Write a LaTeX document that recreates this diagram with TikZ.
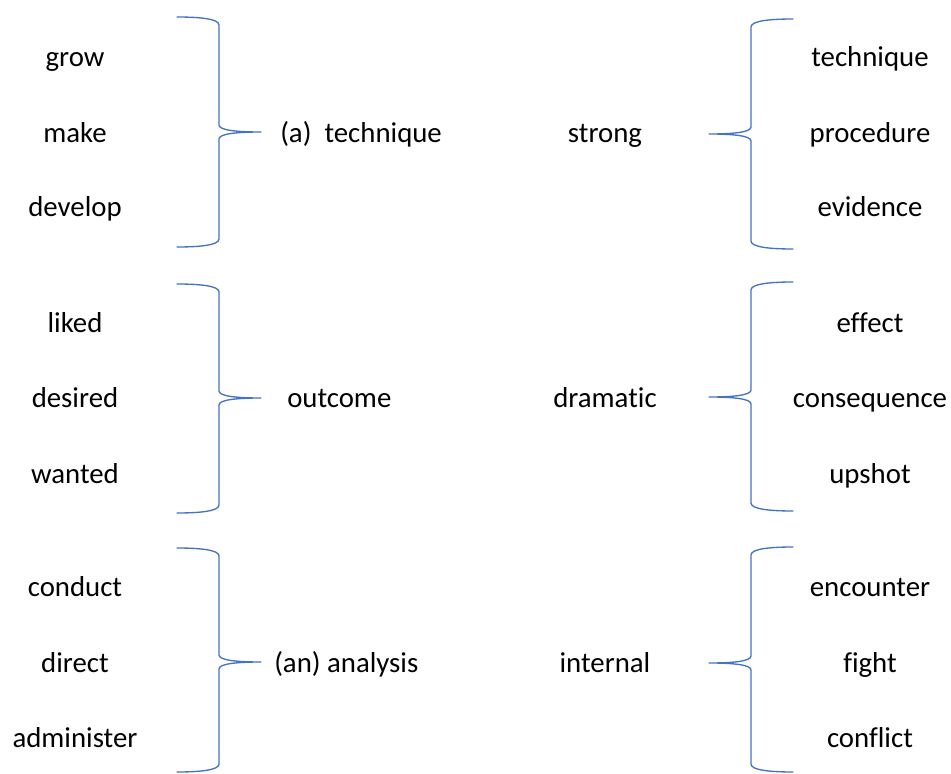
\documentclass[tikz,border=0pt]{standalone}
\usepackage{fontspec}
\setmainfont{Carlito}[Ligatures={NoCommon}]
\definecolor{braceblue}{HTML}{4472C4}

% curly bracket: #1 x of the spine, #2 direction (+1 tip to the right, -1 tip to the left),
% #3 top y, #4 tip y, #5 bottom y
\newcommand\curlybracket[5]{%
  \draw[bracket line]
    ({#1-(#2)*42},#3) .. controls ({#1-(#2)*18},#3) and (#1,{#3+2}) .. (#1,{#3+8})
    -- (#1,{#4-7}) .. controls (#1,{#4-2}) and ({#1+(#2)*16},#4) .. ({#1+(#2)*42},#4)
    .. controls ({#1+(#2)*16},#4) and (#1,{#4+2}) .. (#1,{#4+7})
    -- (#1,{#5-8}) .. controls (#1,{#5-2}) and ({#1-(#2)*18},#5) .. ({#1-(#2)*42},#5);}

\begin{document}
\begin{tikzpicture}[x=0.75pt,y=-0.75pt,
  word/.style={anchor=base,inner sep=0pt,font=\fontsize{21.6}{26}\selectfont,text=black},
  headword/.style={word,anchor=base west},
  bracket line/.style={draw=braceblue,line width=1pt,line cap=round,line join=round}]
\useasboundingbox (0,0) rectangle (951,774);

% left column of verbs / adjectives
\node[word] (grow)     at (75,67)  {grow};
\node[word] (make)     at (75,143) {make};
\node[word] (develop)  at (75,217) {develop};
\node[word] (liked)    at (75,332) {liked};
\node[word] (desired)  at (75,407) {desired};
\node[word] (wanted)   at (75,483) {wanted};
\node[word] (conduct)  at (75,596) {conduct};
\node[word] (direct)   at (75,672) {direct};
\node[word] (administer) at (75,747) {administer};

% nouns after the left brackets
\node[headword] (technique1) at (280,143) {(a)\ \ technique};
\node[headword] (outcome)    at (287,407) {outcome};
\node[headword] (analysis)   at (274,672) {(an) analysis};

% adjectives before the right brackets
\node[word] (strong)   at (605,143) {strong};
\node[word] (dramatic) at (605,407) {dramatic};
\node[word] (internal) at (605,672) {internal};

% right column of nouns
\node[word] (technique2)  at (870,67)  {technique};
\node[word] (procedure)   at (870,143) {procedure};
\node[word] (evidence)    at (870,217) {evidence};
\node[word] (effect)      at (870,332) {effect};
\node[word] (consequence) at (870,407) {consequence};
\node[word] (upshot)      at (870,483) {upshot};
\node[word] (encounter)   at (870,596) {encounter};
\node[word] (fight)       at (870,672) {fight};
\node[word] (conflict)    at (870,747) {conflict};

% brackets
\curlybracket{219}{1}{17}{132}{247}
\curlybracket{219}{1}{284}{398}{513}
\curlybracket{219}{1}{548}{662}{772}
\curlybracket{751}{-1}{19}{134}{249}
\curlybracket{751}{-1}{282}{397}{511}
\curlybracket{751}{-1}{547}{663}{772}
\end{tikzpicture}
\end{document}
